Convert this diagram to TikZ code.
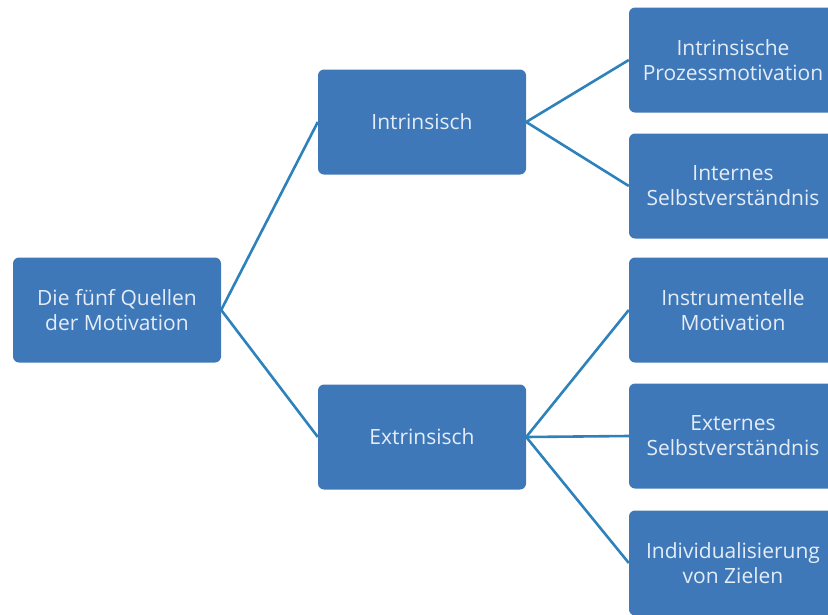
\documentclass[tikz,border=0pt]{standalone}
\usepackage{fontspec}
\setmainfont{Open Sans}
\usepackage{tikz}
\definecolor{boxblue}{HTML}{3F78B9}
\definecolor{lineblue}{HTML}{2E82BC}
\definecolor{boxtext}{HTML}{E4EDF7}
\tikzset{
  box/.style={rectangle, rounded corners=6pt, fill=boxblue, text=boxtext,
    minimum width=208pt, minimum height=105pt, align=center,
    font=\fontsize{21}{25}\selectfont},
  link/.style={draw=lineblue, line width=2.6pt}
}

\begin{document}
\begin{tikzpicture}[x=1pt, y=-1pt]
    \useasboundingbox (0, 0) rectangle (828, 614);
    \clip (0, 0) rectangle (828, 614);
    % root and the two groups
    \node[box] (quellen) at (117, 310) {Die fünf Quellen\\der Motivation};
    \node[box] (intr) at (422, 122) {Intrinsisch};
    \node[box] (extr) at (422, 437) {Extrinsisch};
    % the five sources
    \node[box] (prozess) at (733, 60) {Intrinsische\\Prozessmotivation};
    \node[box] (intern) at (733, 186) {Internes\\Selbstverständnis};
    \node[box] (instr) at (733, 310) {Instrumentelle\\Motivation};
    \node[box] (extern) at (733, 436) {Externes\\Selbstverständnis};
    \node[box] (ziele) at (733, 563) {Individualisierung\\von Zielen};
    % connectors
    \draw[link] (intr.west) -- (quellen.east) -- (extr.west);
    \draw[link] (prozess.west) -- (intr.east) -- (intern.west);
    \draw[link] (instr.west) -- (extr.east) -- (ziele.west);
    \draw[link] (extr.east) -- (extern.west);
\end{tikzpicture}
\end{document}
